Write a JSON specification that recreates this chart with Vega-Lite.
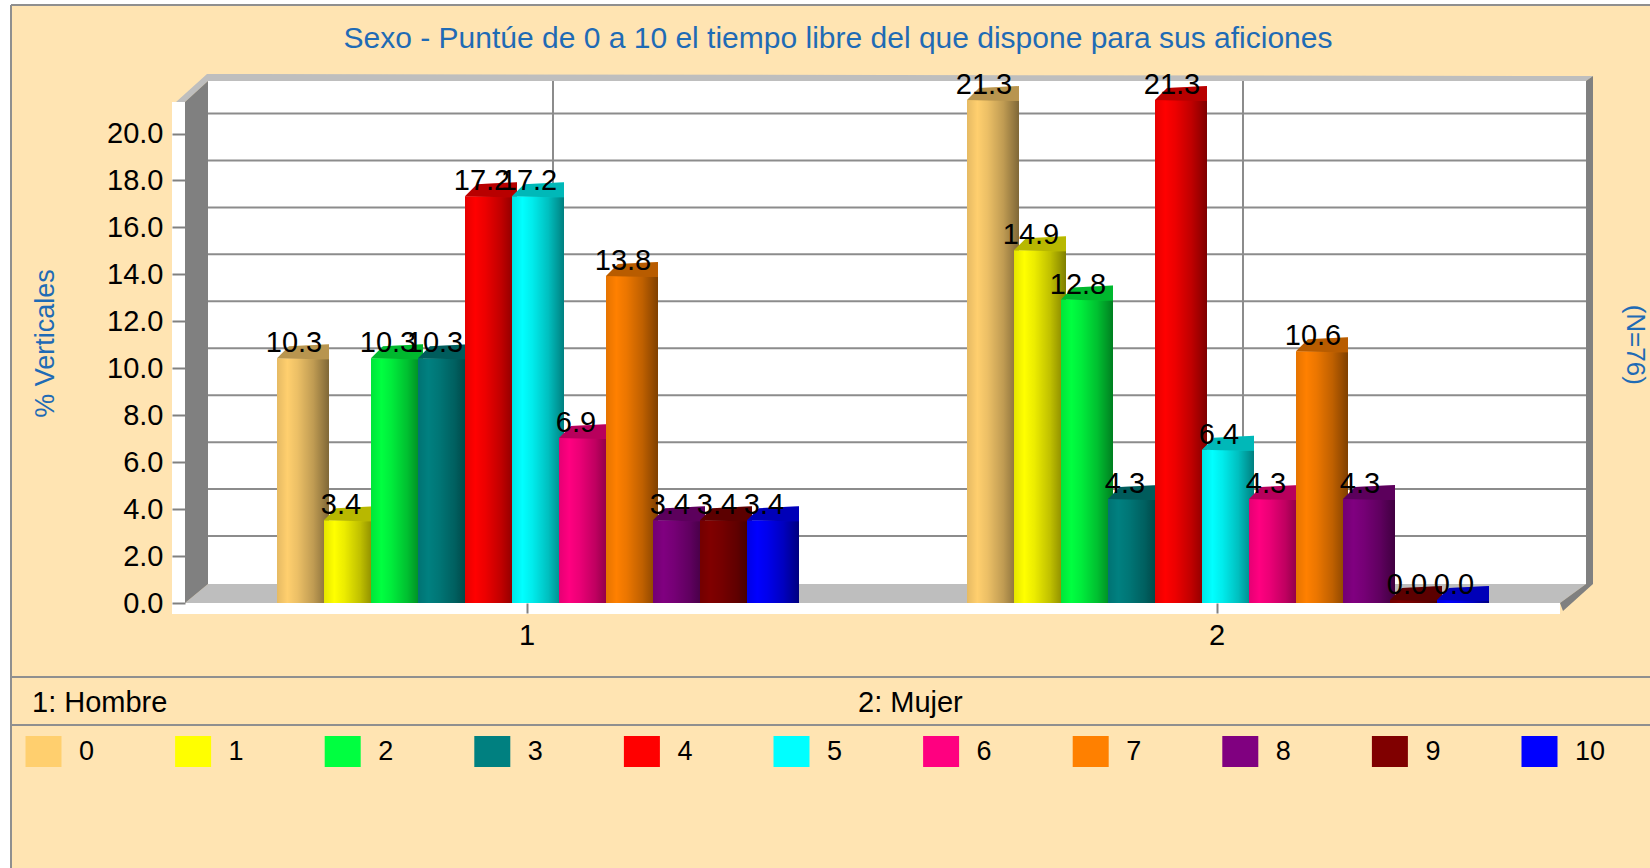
{"$schema":"https://vega.github.io/schema/vega-lite/v6.json","autosize":{"type":"none"},"padding":{"left":182,"top":103,"right":88,"bottom":265},"width":1380,"height":500,"background":"#FFE4B2","config":{"view":{"stroke":null},"font":"Liberation Sans"},
"title":{"text":"Sexo - Puntúe de 0 a 10 el tiempo libre del que dispone para sus aficiones","anchor":"middle","dx":-34,"offset":-54,"fontSize":30,"fontWeight":"normal","color":"#1F6BB5","font":"Liberation Sans"},
"datasets":{"one":[{"k":1}],"ticks":[{"t":2},{"t":4},{"t":6},{"t":8},{"t":10},{"t":12},{"t":14},{"t":16},{"t":18},{"t":20}],"groups":[{"group":"1"},{"group":"2"}],
"rows":[{"group":"1","cat":"0","v":10.3},{"group":"1","cat":"1","v":3.4},{"group":"1","cat":"2","v":10.3},{"group":"1","cat":"3","v":10.3},{"group":"1","cat":"4","v":17.2},{"group":"1","cat":"5","v":17.2},{"group":"1","cat":"6","v":6.9},{"group":"1","cat":"7","v":13.8},{"group":"1","cat":"8","v":3.4},{"group":"1","cat":"9","v":3.4},{"group":"1","cat":"10","v":3.4},{"group":"2","cat":"0","v":21.3},{"group":"2","cat":"1","v":14.9},{"group":"2","cat":"2","v":12.8},{"group":"2","cat":"3","v":4.3},{"group":"2","cat":"4","v":21.3},{"group":"2","cat":"5","v":6.4},{"group":"2","cat":"6","v":4.3},{"group":"2","cat":"7","v":10.6},{"group":"2","cat":"8","v":4.3},{"group":"2","cat":"9","v":0.0},{"group":"2","cat":"10","v":0.0}]},
"data":{"name":"rows"},
"layer":[
{"data":{"name":"one"},"mark":{"type":"point","shape":"M-872,-603H-861V265H-872ZM-872,-603H778V-598H-872Z","size":4,"filled":true,"fill":"#FFFFFF","opacity":1,"strokeWidth":0},"encoding":{"y":{"datum":0,"scale":{"domain":[0,21.3],"nice":false}}}},
{"data":{"name":"one"},"mark":{"type":"point","shape":"M-861,-598V265M-861,-598H778M-861,74H778M-861,122H778","size":4,"filled":false,"stroke":"#8F8F8F","strokeWidth":2,"opacity":1},"encoding":{"y":{"datum":0}}},
{"data":{"name":"one"},"mark":{"type":"point","shape":"M-664,-522H714V-19H-664Z","size":4,"filled":true,"fill":"#FFFFFF","opacity":1,"strokeWidth":0},"encoding":{"y":{"datum":0}}},
{"data":{"name":"ticks"},"mark":{"type":"rule","color":"#8C8C8C","strokeWidth":2,"xOffset":26,"x2Offset":26,"yOffset":-20},"encoding":{"y":{"field":"t","type":"quantitative","scale":{"domain":[0,21.3],"nice":false},"axis":{"title":"% Verticales","values":[0,2,4,6,8,10,12,14,16,18,20],"format":".1f","grid":false,"domain":false,"offset":-3,"tickSize":13,"tickColor":"#808080","tickWidth":2,"labelFontSize":29,"labelColor":"#000000","labelPadding":9,"titleFontSize":27,"titleFontWeight":"normal","titleColor":"#1F6BB5","titleX":-126,"titleY":240,"zindex":1}}}},
{"data":{"name":"groups"},"mark":{"type":"rule","color":"#8C8C8C","strokeWidth":2,"xOffset":26,"yOffset":-22,"y2Offset":-20},"encoding":{"x":{"field":"group","type":"nominal","scale":{"domain":["1","2"],"paddingInner":0,"paddingOuter":0},"axis":{"title":null,"labelAngle":0,"domain":false,"tickSize":10,"tickColor":"#808080","tickWidth":2,"labelFontSize":29,"labelColor":"#000000","labelPadding":8,"zindex":1}}}},
{"data":{"name":"one"},"mark":{"type":"point","shape":"M-696,-501L-665,-529L721,-527L714,-522L-664,-522L-687,-501ZM-687,0L-664,-19L714,-19L688,0Z","size":4,"filled":true,"fill":"#BEBEBE","opacity":1,"strokeWidth":0},"encoding":{"y":{"datum":0}}},
{"data":{"name":"one"},"mark":{"type":"point","shape":"M-687,-501L-664,-522L-664,-19L-687,0ZM714,-522L721,-527L721,-19L691,8L688,0L714,-19Z","size":4,"filled":true,"fill":"#808080","opacity":1,"strokeWidth":0},"encoding":{"y":{"datum":0}}},
{"data":{"name":"one"},"mark":{"type":"point","shape":"M-700,-501H-687V0H688V11H-700Z","size":4,"filled":true,"fill":"#FFFFFF","opacity":1,"strokeWidth":0},"encoding":{"y":{"datum":0}}},
{"transform":[{"filter":"datum.cat==='0'"}],"layer":[{"mark":{"type":"bar","width":52,"yOffset":-3},"encoding":{"x":{"field":"group","type":"nominal"},"xOffset":{"field":"cat","type":"nominal","scale":{"domain":["0","1","2","3","4","5","6","7","8","9","10"],"range":[97.5,614.5]}},"y":{"field":"v","type":"quantitative"},"y2":{"datum":0},"color":{"field":"cat","type":"nominal","scale":{"domain":["0","1","2","3","4","5","6","7","8","9","10"],"range":["#FFCF6E","#FFFF00","#00FF40","#008080","#FF0000","#00FFFF","#FF0080","#FF8000","#800080","#800000","#0000FF"]},"legend":{"title":null,"orient":"none","direction":"horizontal","columns":11,"legendX":-152,"legendY":635,"symbolType":"M-18,-15.5H18V15.5H-18Z","symbolSize":4,"symbolStrokeWidth":0,"symbolOpacity":1,"labelOffset":22,"labelFontSize":27,"labelColor":"#000000","columnPadding":64.6,"gridAlign":"all"}}}},
{"mark":{"type":"bar","width":52,"yOffset":-3,"color":{"gradient":"linear","x1":0,"x2":1,"y1":0,"y2":0,"stops":[{"offset":0,"color":"rgba(0,0,0,0.1)"},{"offset":0.2,"color":"rgba(0,0,0,0)"},{"offset":0.4,"color":"rgba(0,0,0,0.08)"},{"offset":0.7,"color":"rgba(0,0,0,0.25)"},{"offset":1,"color":"rgba(0,0,0,0.5)"}]}},"encoding":{"x":{"field":"group","type":"nominal"},"xOffset":{"field":"cat","type":"nominal"},"y":{"field":"v","type":"quantitative"},"y2":{"datum":0}}},
{"mark":{"type":"point","shape":"M-26,0L-14,-12L26,-14L26,1L13,1Z","size":4,"filled":true,"opacity":1,"strokeWidth":0,"yOffset":-3},"encoding":{"x":{"field":"group","type":"nominal"},"xOffset":{"field":"cat","type":"nominal"},"y":{"field":"v","type":"quantitative"},"color":{"field":"cat","type":"nominal"}}},
{"mark":{"type":"point","shape":"M-26,0L-14,-12L26,-14L26,1L13,1Z","size":4,"filled":true,"fill":"#000000","opacity":0.28,"strokeWidth":0,"yOffset":-3},"encoding":{"x":{"field":"group","type":"nominal"},"xOffset":{"field":"cat","type":"nominal"},"y":{"field":"v","type":"quantitative"}}}]},
{"transform":[{"filter":"datum.cat==='1'"}],"layer":[{"mark":{"type":"bar","width":52,"yOffset":-3},"encoding":{"x":{"field":"group","type":"nominal"},"xOffset":{"field":"cat","type":"nominal"},"y":{"field":"v","type":"quantitative"},"y2":{"datum":0},"color":{"field":"cat","type":"nominal"}}},
{"mark":{"type":"bar","width":52,"yOffset":-3,"color":{"gradient":"linear","x1":0,"x2":1,"y1":0,"y2":0,"stops":[{"offset":0,"color":"rgba(0,0,0,0.1)"},{"offset":0.2,"color":"rgba(0,0,0,0)"},{"offset":0.4,"color":"rgba(0,0,0,0.08)"},{"offset":0.7,"color":"rgba(0,0,0,0.25)"},{"offset":1,"color":"rgba(0,0,0,0.5)"}]}},"encoding":{"x":{"field":"group","type":"nominal"},"xOffset":{"field":"cat","type":"nominal"},"y":{"field":"v","type":"quantitative"},"y2":{"datum":0}}},
{"mark":{"type":"point","shape":"M-26,0L-14,-12L26,-14L26,1L13,1Z","size":4,"filled":true,"opacity":1,"strokeWidth":0,"yOffset":-3},"encoding":{"x":{"field":"group","type":"nominal"},"xOffset":{"field":"cat","type":"nominal"},"y":{"field":"v","type":"quantitative"},"color":{"field":"cat","type":"nominal"}}},
{"mark":{"type":"point","shape":"M-26,0L-14,-12L26,-14L26,1L13,1Z","size":4,"filled":true,"fill":"#000000","opacity":0.28,"strokeWidth":0,"yOffset":-3},"encoding":{"x":{"field":"group","type":"nominal"},"xOffset":{"field":"cat","type":"nominal"},"y":{"field":"v","type":"quantitative"}}}]},
{"transform":[{"filter":"datum.cat==='2'"}],"layer":[{"mark":{"type":"bar","width":52,"yOffset":-3},"encoding":{"x":{"field":"group","type":"nominal"},"xOffset":{"field":"cat","type":"nominal"},"y":{"field":"v","type":"quantitative"},"y2":{"datum":0},"color":{"field":"cat","type":"nominal"}}},
{"mark":{"type":"bar","width":52,"yOffset":-3,"color":{"gradient":"linear","x1":0,"x2":1,"y1":0,"y2":0,"stops":[{"offset":0,"color":"rgba(0,0,0,0.1)"},{"offset":0.2,"color":"rgba(0,0,0,0)"},{"offset":0.4,"color":"rgba(0,0,0,0.08)"},{"offset":0.7,"color":"rgba(0,0,0,0.25)"},{"offset":1,"color":"rgba(0,0,0,0.5)"}]}},"encoding":{"x":{"field":"group","type":"nominal"},"xOffset":{"field":"cat","type":"nominal"},"y":{"field":"v","type":"quantitative"},"y2":{"datum":0}}},
{"mark":{"type":"point","shape":"M-26,0L-14,-12L26,-14L26,1L13,1Z","size":4,"filled":true,"opacity":1,"strokeWidth":0,"yOffset":-3},"encoding":{"x":{"field":"group","type":"nominal"},"xOffset":{"field":"cat","type":"nominal"},"y":{"field":"v","type":"quantitative"},"color":{"field":"cat","type":"nominal"}}},
{"mark":{"type":"point","shape":"M-26,0L-14,-12L26,-14L26,1L13,1Z","size":4,"filled":true,"fill":"#000000","opacity":0.28,"strokeWidth":0,"yOffset":-3},"encoding":{"x":{"field":"group","type":"nominal"},"xOffset":{"field":"cat","type":"nominal"},"y":{"field":"v","type":"quantitative"}}}]},
{"transform":[{"filter":"datum.cat==='3'"}],"layer":[{"mark":{"type":"bar","width":52,"yOffset":-3},"encoding":{"x":{"field":"group","type":"nominal"},"xOffset":{"field":"cat","type":"nominal"},"y":{"field":"v","type":"quantitative"},"y2":{"datum":0},"color":{"field":"cat","type":"nominal"}}},
{"mark":{"type":"bar","width":52,"yOffset":-3,"color":{"gradient":"linear","x1":0,"x2":1,"y1":0,"y2":0,"stops":[{"offset":0,"color":"rgba(0,0,0,0.1)"},{"offset":0.2,"color":"rgba(0,0,0,0)"},{"offset":0.4,"color":"rgba(0,0,0,0.08)"},{"offset":0.7,"color":"rgba(0,0,0,0.25)"},{"offset":1,"color":"rgba(0,0,0,0.5)"}]}},"encoding":{"x":{"field":"group","type":"nominal"},"xOffset":{"field":"cat","type":"nominal"},"y":{"field":"v","type":"quantitative"},"y2":{"datum":0}}},
{"mark":{"type":"point","shape":"M-26,0L-14,-12L26,-14L26,1L13,1Z","size":4,"filled":true,"opacity":1,"strokeWidth":0,"yOffset":-3},"encoding":{"x":{"field":"group","type":"nominal"},"xOffset":{"field":"cat","type":"nominal"},"y":{"field":"v","type":"quantitative"},"color":{"field":"cat","type":"nominal"}}},
{"mark":{"type":"point","shape":"M-26,0L-14,-12L26,-14L26,1L13,1Z","size":4,"filled":true,"fill":"#000000","opacity":0.28,"strokeWidth":0,"yOffset":-3},"encoding":{"x":{"field":"group","type":"nominal"},"xOffset":{"field":"cat","type":"nominal"},"y":{"field":"v","type":"quantitative"}}}]},
{"transform":[{"filter":"datum.cat==='4'"}],"layer":[{"mark":{"type":"bar","width":52,"yOffset":-3},"encoding":{"x":{"field":"group","type":"nominal"},"xOffset":{"field":"cat","type":"nominal"},"y":{"field":"v","type":"quantitative"},"y2":{"datum":0},"color":{"field":"cat","type":"nominal"}}},
{"mark":{"type":"bar","width":52,"yOffset":-3,"color":{"gradient":"linear","x1":0,"x2":1,"y1":0,"y2":0,"stops":[{"offset":0,"color":"rgba(0,0,0,0.1)"},{"offset":0.2,"color":"rgba(0,0,0,0)"},{"offset":0.4,"color":"rgba(0,0,0,0.08)"},{"offset":0.7,"color":"rgba(0,0,0,0.25)"},{"offset":1,"color":"rgba(0,0,0,0.5)"}]}},"encoding":{"x":{"field":"group","type":"nominal"},"xOffset":{"field":"cat","type":"nominal"},"y":{"field":"v","type":"quantitative"},"y2":{"datum":0}}},
{"mark":{"type":"point","shape":"M-26,0L-14,-12L26,-14L26,1L13,1Z","size":4,"filled":true,"opacity":1,"strokeWidth":0,"yOffset":-3},"encoding":{"x":{"field":"group","type":"nominal"},"xOffset":{"field":"cat","type":"nominal"},"y":{"field":"v","type":"quantitative"},"color":{"field":"cat","type":"nominal"}}},
{"mark":{"type":"point","shape":"M-26,0L-14,-12L26,-14L26,1L13,1Z","size":4,"filled":true,"fill":"#000000","opacity":0.28,"strokeWidth":0,"yOffset":-3},"encoding":{"x":{"field":"group","type":"nominal"},"xOffset":{"field":"cat","type":"nominal"},"y":{"field":"v","type":"quantitative"}}}]},
{"transform":[{"filter":"datum.cat==='5'"}],"layer":[{"mark":{"type":"bar","width":52,"yOffset":-3},"encoding":{"x":{"field":"group","type":"nominal"},"xOffset":{"field":"cat","type":"nominal"},"y":{"field":"v","type":"quantitative"},"y2":{"datum":0},"color":{"field":"cat","type":"nominal"}}},
{"mark":{"type":"bar","width":52,"yOffset":-3,"color":{"gradient":"linear","x1":0,"x2":1,"y1":0,"y2":0,"stops":[{"offset":0,"color":"rgba(0,0,0,0.1)"},{"offset":0.2,"color":"rgba(0,0,0,0)"},{"offset":0.4,"color":"rgba(0,0,0,0.08)"},{"offset":0.7,"color":"rgba(0,0,0,0.25)"},{"offset":1,"color":"rgba(0,0,0,0.5)"}]}},"encoding":{"x":{"field":"group","type":"nominal"},"xOffset":{"field":"cat","type":"nominal"},"y":{"field":"v","type":"quantitative"},"y2":{"datum":0}}},
{"mark":{"type":"point","shape":"M-26,0L-14,-12L26,-14L26,1L13,1Z","size":4,"filled":true,"opacity":1,"strokeWidth":0,"yOffset":-3},"encoding":{"x":{"field":"group","type":"nominal"},"xOffset":{"field":"cat","type":"nominal"},"y":{"field":"v","type":"quantitative"},"color":{"field":"cat","type":"nominal"}}},
{"mark":{"type":"point","shape":"M-26,0L-14,-12L26,-14L26,1L13,1Z","size":4,"filled":true,"fill":"#000000","opacity":0.28,"strokeWidth":0,"yOffset":-3},"encoding":{"x":{"field":"group","type":"nominal"},"xOffset":{"field":"cat","type":"nominal"},"y":{"field":"v","type":"quantitative"}}}]},
{"transform":[{"filter":"datum.cat==='6'"}],"layer":[{"mark":{"type":"bar","width":52,"yOffset":-3},"encoding":{"x":{"field":"group","type":"nominal"},"xOffset":{"field":"cat","type":"nominal"},"y":{"field":"v","type":"quantitative"},"y2":{"datum":0},"color":{"field":"cat","type":"nominal"}}},
{"mark":{"type":"bar","width":52,"yOffset":-3,"color":{"gradient":"linear","x1":0,"x2":1,"y1":0,"y2":0,"stops":[{"offset":0,"color":"rgba(0,0,0,0.1)"},{"offset":0.2,"color":"rgba(0,0,0,0)"},{"offset":0.4,"color":"rgba(0,0,0,0.08)"},{"offset":0.7,"color":"rgba(0,0,0,0.25)"},{"offset":1,"color":"rgba(0,0,0,0.5)"}]}},"encoding":{"x":{"field":"group","type":"nominal"},"xOffset":{"field":"cat","type":"nominal"},"y":{"field":"v","type":"quantitative"},"y2":{"datum":0}}},
{"mark":{"type":"point","shape":"M-26,0L-14,-12L26,-14L26,1L13,1Z","size":4,"filled":true,"opacity":1,"strokeWidth":0,"yOffset":-3},"encoding":{"x":{"field":"group","type":"nominal"},"xOffset":{"field":"cat","type":"nominal"},"y":{"field":"v","type":"quantitative"},"color":{"field":"cat","type":"nominal"}}},
{"mark":{"type":"point","shape":"M-26,0L-14,-12L26,-14L26,1L13,1Z","size":4,"filled":true,"fill":"#000000","opacity":0.28,"strokeWidth":0,"yOffset":-3},"encoding":{"x":{"field":"group","type":"nominal"},"xOffset":{"field":"cat","type":"nominal"},"y":{"field":"v","type":"quantitative"}}}]},
{"transform":[{"filter":"datum.cat==='7'"}],"layer":[{"mark":{"type":"bar","width":52,"yOffset":-3},"encoding":{"x":{"field":"group","type":"nominal"},"xOffset":{"field":"cat","type":"nominal"},"y":{"field":"v","type":"quantitative"},"y2":{"datum":0},"color":{"field":"cat","type":"nominal"}}},
{"mark":{"type":"bar","width":52,"yOffset":-3,"color":{"gradient":"linear","x1":0,"x2":1,"y1":0,"y2":0,"stops":[{"offset":0,"color":"rgba(0,0,0,0.1)"},{"offset":0.2,"color":"rgba(0,0,0,0)"},{"offset":0.4,"color":"rgba(0,0,0,0.08)"},{"offset":0.7,"color":"rgba(0,0,0,0.25)"},{"offset":1,"color":"rgba(0,0,0,0.5)"}]}},"encoding":{"x":{"field":"group","type":"nominal"},"xOffset":{"field":"cat","type":"nominal"},"y":{"field":"v","type":"quantitative"},"y2":{"datum":0}}},
{"mark":{"type":"point","shape":"M-26,0L-14,-12L26,-14L26,1L13,1Z","size":4,"filled":true,"opacity":1,"strokeWidth":0,"yOffset":-3},"encoding":{"x":{"field":"group","type":"nominal"},"xOffset":{"field":"cat","type":"nominal"},"y":{"field":"v","type":"quantitative"},"color":{"field":"cat","type":"nominal"}}},
{"mark":{"type":"point","shape":"M-26,0L-14,-12L26,-14L26,1L13,1Z","size":4,"filled":true,"fill":"#000000","opacity":0.28,"strokeWidth":0,"yOffset":-3},"encoding":{"x":{"field":"group","type":"nominal"},"xOffset":{"field":"cat","type":"nominal"},"y":{"field":"v","type":"quantitative"}}}]},
{"transform":[{"filter":"datum.cat==='8'"}],"layer":[{"mark":{"type":"bar","width":52,"yOffset":-3},"encoding":{"x":{"field":"group","type":"nominal"},"xOffset":{"field":"cat","type":"nominal"},"y":{"field":"v","type":"quantitative"},"y2":{"datum":0},"color":{"field":"cat","type":"nominal"}}},
{"mark":{"type":"bar","width":52,"yOffset":-3,"color":{"gradient":"linear","x1":0,"x2":1,"y1":0,"y2":0,"stops":[{"offset":0,"color":"rgba(0,0,0,0.1)"},{"offset":0.2,"color":"rgba(0,0,0,0)"},{"offset":0.4,"color":"rgba(0,0,0,0.08)"},{"offset":0.7,"color":"rgba(0,0,0,0.25)"},{"offset":1,"color":"rgba(0,0,0,0.5)"}]}},"encoding":{"x":{"field":"group","type":"nominal"},"xOffset":{"field":"cat","type":"nominal"},"y":{"field":"v","type":"quantitative"},"y2":{"datum":0}}},
{"mark":{"type":"point","shape":"M-26,0L-14,-12L26,-14L26,1L13,1Z","size":4,"filled":true,"opacity":1,"strokeWidth":0,"yOffset":-3},"encoding":{"x":{"field":"group","type":"nominal"},"xOffset":{"field":"cat","type":"nominal"},"y":{"field":"v","type":"quantitative"},"color":{"field":"cat","type":"nominal"}}},
{"mark":{"type":"point","shape":"M-26,0L-14,-12L26,-14L26,1L13,1Z","size":4,"filled":true,"fill":"#000000","opacity":0.28,"strokeWidth":0,"yOffset":-3},"encoding":{"x":{"field":"group","type":"nominal"},"xOffset":{"field":"cat","type":"nominal"},"y":{"field":"v","type":"quantitative"}}}]},
{"transform":[{"filter":"datum.cat==='9'"}],"layer":[{"mark":{"type":"bar","width":52,"yOffset":-3},"encoding":{"x":{"field":"group","type":"nominal"},"xOffset":{"field":"cat","type":"nominal"},"y":{"field":"v","type":"quantitative"},"y2":{"datum":0},"color":{"field":"cat","type":"nominal"}}},
{"mark":{"type":"bar","width":52,"yOffset":-3,"color":{"gradient":"linear","x1":0,"x2":1,"y1":0,"y2":0,"stops":[{"offset":0,"color":"rgba(0,0,0,0.1)"},{"offset":0.2,"color":"rgba(0,0,0,0)"},{"offset":0.4,"color":"rgba(0,0,0,0.08)"},{"offset":0.7,"color":"rgba(0,0,0,0.25)"},{"offset":1,"color":"rgba(0,0,0,0.5)"}]}},"encoding":{"x":{"field":"group","type":"nominal"},"xOffset":{"field":"cat","type":"nominal"},"y":{"field":"v","type":"quantitative"},"y2":{"datum":0}}},
{"mark":{"type":"point","shape":"M-26,0L-14,-12L26,-14L26,1L13,1Z","size":4,"filled":true,"opacity":1,"strokeWidth":0,"yOffset":-3},"encoding":{"x":{"field":"group","type":"nominal"},"xOffset":{"field":"cat","type":"nominal"},"y":{"field":"v","type":"quantitative"},"color":{"field":"cat","type":"nominal"}}},
{"mark":{"type":"point","shape":"M-26,0L-14,-12L26,-14L26,1L13,1Z","size":4,"filled":true,"fill":"#000000","opacity":0.28,"strokeWidth":0,"yOffset":-3},"encoding":{"x":{"field":"group","type":"nominal"},"xOffset":{"field":"cat","type":"nominal"},"y":{"field":"v","type":"quantitative"}}}]},
{"transform":[{"filter":"datum.cat==='10'"}],"layer":[{"mark":{"type":"bar","width":52,"yOffset":-3},"encoding":{"x":{"field":"group","type":"nominal"},"xOffset":{"field":"cat","type":"nominal"},"y":{"field":"v","type":"quantitative"},"y2":{"datum":0},"color":{"field":"cat","type":"nominal"}}},
{"mark":{"type":"bar","width":52,"yOffset":-3,"color":{"gradient":"linear","x1":0,"x2":1,"y1":0,"y2":0,"stops":[{"offset":0,"color":"rgba(0,0,0,0.1)"},{"offset":0.2,"color":"rgba(0,0,0,0)"},{"offset":0.4,"color":"rgba(0,0,0,0.08)"},{"offset":0.7,"color":"rgba(0,0,0,0.25)"},{"offset":1,"color":"rgba(0,0,0,0.5)"}]}},"encoding":{"x":{"field":"group","type":"nominal"},"xOffset":{"field":"cat","type":"nominal"},"y":{"field":"v","type":"quantitative"},"y2":{"datum":0}}},
{"mark":{"type":"point","shape":"M-26,0L-14,-12L26,-14L26,1L13,1Z","size":4,"filled":true,"opacity":1,"strokeWidth":0,"yOffset":-3},"encoding":{"x":{"field":"group","type":"nominal"},"xOffset":{"field":"cat","type":"nominal"},"y":{"field":"v","type":"quantitative"},"color":{"field":"cat","type":"nominal"}}},
{"mark":{"type":"point","shape":"M-26,0L-14,-12L26,-14L26,1L13,1Z","size":4,"filled":true,"fill":"#000000","opacity":0.28,"strokeWidth":0,"yOffset":-3},"encoding":{"x":{"field":"group","type":"nominal"},"xOffset":{"field":"cat","type":"nominal"},"y":{"field":"v","type":"quantitative"}}}]},
{"mark":{"type":"text","fontSize":29,"color":"#000000","dx":-9,"dy":-18,"baseline":"middle"},"encoding":{"x":{"field":"group","type":"nominal"},"xOffset":{"field":"cat","type":"nominal"},"y":{"field":"v","type":"quantitative"},"text":{"field":"v","type":"quantitative","format":".1f"}}},
{"data":{"name":"one"},"mark":{"type":"text","text":"1: Hombre","align":"left","baseline":"middle","fontSize":29,"color":"#000000","dx":-495},"encoding":{"x":{"datum":"1","type":"nominal"},"y":{"datum":-4.26}}},
{"data":{"name":"one"},"mark":{"type":"text","text":"2: Mujer","align":"left","baseline":"middle","fontSize":29,"color":"#000000","dx":-359},"encoding":{"x":{"datum":"2","type":"nominal"},"y":{"datum":-4.26}}},
{"data":{"name":"one"},"mark":{"type":"text","text":"(N=76)","angle":90,"align":"center","baseline":"middle","fontSize":26,"color":"#1F6BB5","dy":-418},"encoding":{"x":{"datum":"2","type":"nominal"},"y":{"datum":11.0}}}
]}
